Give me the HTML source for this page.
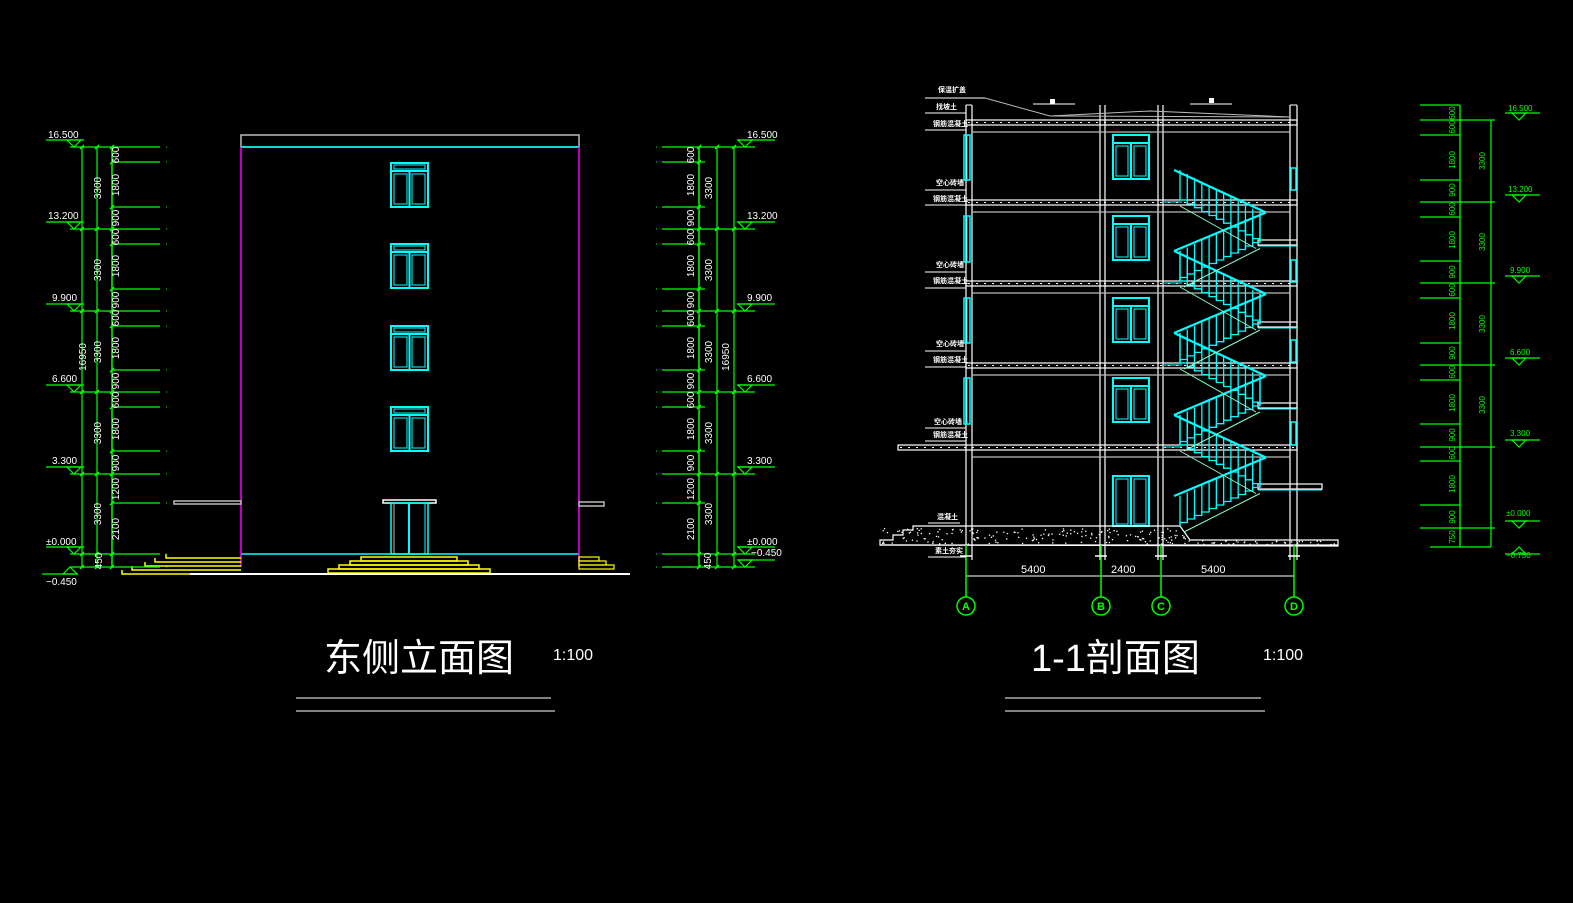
<!DOCTYPE html>
<html><head><meta charset="utf-8">
<style>
html,body{margin:0;padding:0;background:#000;}
svg{display:block;}
text{font-family:"Liberation Sans","Noto Sans CJK SC",sans-serif;}
.d{fill:#fff;font-size:10px;}
.g{fill:#0f0;font-size:8px;}
</style></head><body>
<svg id="s" width="1573" height="903" viewBox="0 0 1573 903" xmlns="http://www.w3.org/2000/svg">
<rect width="1573" height="903" fill="#000"/>
<g id="geo"></g>

<g class="d" font-size="10">
<text x="48" y="138">16.500</text>
<text x="48" y="219">13.200</text>
<text x="52" y="301">9.900</text>
<text x="52" y="382">6.600</text>
<text x="52" y="464">3.300</text>
<text x="46" y="545">±0.000</text>
<text x="46" y="585">−0.450</text>
<text x="747" y="138">16.500</text>
<text x="747" y="219">13.200</text>
<text x="747" y="301">9.900</text>
<text x="747" y="382">6.600</text>
<text x="747" y="464">3.300</text>
<text x="747" y="545">±0.000</text>
<text x="751" y="556">−0.450</text>
</g>
<g class="d" font-size="9">
<text transform="translate(101,188) rotate(-90)" text-anchor="middle">3300</text>
<text transform="translate(101,270) rotate(-90)" text-anchor="middle">3300</text>
<text transform="translate(101,352) rotate(-90)" text-anchor="middle">3300</text>
<text transform="translate(101,433) rotate(-90)" text-anchor="middle">3300</text>
<text transform="translate(101,514) rotate(-90)" text-anchor="middle">3300</text>
<text transform="translate(86,357) rotate(-90)" text-anchor="middle">16950</text>
<text transform="translate(119,155) rotate(-90)" text-anchor="middle">600</text>
<text transform="translate(119,185) rotate(-90)" text-anchor="middle">1800</text>
<text transform="translate(119,218) rotate(-90)" text-anchor="middle">900</text>
<text transform="translate(119,237) rotate(-90)" text-anchor="middle">600</text>
<text transform="translate(119,266) rotate(-90)" text-anchor="middle">1800</text>
<text transform="translate(119,300) rotate(-90)" text-anchor="middle">900</text>
<text transform="translate(119,318) rotate(-90)" text-anchor="middle">600</text>
<text transform="translate(119,348) rotate(-90)" text-anchor="middle">1800</text>
<text transform="translate(119,381) rotate(-90)" text-anchor="middle">900</text>
<text transform="translate(119,400) rotate(-90)" text-anchor="middle">600</text>
<text transform="translate(119,429) rotate(-90)" text-anchor="middle">1800</text>
<text transform="translate(119,463) rotate(-90)" text-anchor="middle">900</text>
<text transform="translate(119,489) rotate(-90)" text-anchor="middle">1200</text>
<text transform="translate(119,529) rotate(-90)" text-anchor="middle">2100</text>
<text transform="translate(102,561) rotate(-90)" text-anchor="middle">450</text>
<text transform="translate(712,188) rotate(-90)" text-anchor="middle">3300</text>
<text transform="translate(712,270) rotate(-90)" text-anchor="middle">3300</text>
<text transform="translate(712,352) rotate(-90)" text-anchor="middle">3300</text>
<text transform="translate(712,433) rotate(-90)" text-anchor="middle">3300</text>
<text transform="translate(712,514) rotate(-90)" text-anchor="middle">3300</text>
<text transform="translate(729,357) rotate(-90)" text-anchor="middle">16950</text>
<text transform="translate(694,155) rotate(-90)" text-anchor="middle">600</text>
<text transform="translate(694,185) rotate(-90)" text-anchor="middle">1800</text>
<text transform="translate(694,218) rotate(-90)" text-anchor="middle">900</text>
<text transform="translate(694,237) rotate(-90)" text-anchor="middle">600</text>
<text transform="translate(694,266) rotate(-90)" text-anchor="middle">1800</text>
<text transform="translate(694,300) rotate(-90)" text-anchor="middle">900</text>
<text transform="translate(694,318) rotate(-90)" text-anchor="middle">600</text>
<text transform="translate(694,348) rotate(-90)" text-anchor="middle">1800</text>
<text transform="translate(694,381) rotate(-90)" text-anchor="middle">900</text>
<text transform="translate(694,400) rotate(-90)" text-anchor="middle">600</text>
<text transform="translate(694,429) rotate(-90)" text-anchor="middle">1800</text>
<text transform="translate(694,463) rotate(-90)" text-anchor="middle">900</text>
<text transform="translate(694,489) rotate(-90)" text-anchor="middle">1200</text>
<text transform="translate(694,529) rotate(-90)" text-anchor="middle">2100</text>
<text transform="translate(711,561) rotate(-90)" text-anchor="middle">450</text>
</g>

<text x="324" y="671" fill="#fff" font-size="38" font-family="'Liberation Serif','Noto Serif CJK SC',serif">东侧立面图</text>
<text x="553" y="660" fill="#fff" font-size="16" font-family="'Liberation Serif',serif">1:100</text>
<text x="1031" y="671" fill="#fff" font-size="38" font-family="'Liberation Serif','Noto Serif CJK SC',serif">1-1剖面图</text>
<text x="1263" y="660" fill="#fff" font-size="16" font-family="'Liberation Serif',serif">1:100</text>

<g fill="#fff" font-size="7" font-family="'Noto Sans CJK SC',sans-serif" font-weight="bold">
<text x="938" y="92">保温扩盖</text>
<text x="936" y="109">找坡土</text>
<text x="933" y="126">钢筋混凝土</text>
<text x="936" y="185">空心砖墙</text>
<text x="933" y="201">钢筋混凝土</text>
<text x="936" y="267">空心砖墙</text>
<text x="933" y="283">钢筋混凝土</text>
<text x="936" y="346">空心砖墙</text>
<text x="933" y="362">钢筋混凝土</text>
<text x="934" y="424">空心砖墙</text>
<text x="933" y="437">钢筋混凝土</text>
<text x="937" y="519">混凝土</text>
<text x="935" y="553">素土夯实</text>
</g>
<g fill="#fff" font-size="11">
<text x="1021" y="573">5400</text>
<text x="1111" y="573">2400</text>
<text x="1201" y="573">5400</text>
</g>
<g fill="#0f0" font-size="11" font-weight="bold" text-anchor="middle" font-family="'Liberation Serif',serif">
<text x="966" y="610">A</text>
<text x="1101" y="610">B</text>
<text x="1161" y="610">C</text>
<text x="1294" y="610">D</text>
</g>
<g class="g" font-size="7">
<text x="1508" y="111">16.500</text>
<text x="1508" y="192">13.200</text>
<text x="1510" y="273">9.900</text>
<text x="1510" y="355">6.600</text>
<text x="1510" y="436">3.300</text>
<text x="1506" y="516">±0.000</text>
<text x="1506" y="558">−0.750</text>
</g>
<g class="g" font-size="7">
<text transform="translate(1455,113) rotate(-90)" text-anchor="middle">600</text>
<text transform="translate(1455,127) rotate(-90)" text-anchor="middle">600</text>
<text transform="translate(1455,160) rotate(-90)" text-anchor="middle">1800</text>
<text transform="translate(1455,190) rotate(-90)" text-anchor="middle">900</text>
<text transform="translate(1455,209) rotate(-90)" text-anchor="middle">600</text>
<text transform="translate(1455,240) rotate(-90)" text-anchor="middle">1800</text>
<text transform="translate(1455,272) rotate(-90)" text-anchor="middle">900</text>
<text transform="translate(1455,290) rotate(-90)" text-anchor="middle">600</text>
<text transform="translate(1455,321) rotate(-90)" text-anchor="middle">1800</text>
<text transform="translate(1455,353) rotate(-90)" text-anchor="middle">900</text>
<text transform="translate(1455,372) rotate(-90)" text-anchor="middle">600</text>
<text transform="translate(1455,403) rotate(-90)" text-anchor="middle">1800</text>
<text transform="translate(1455,435) rotate(-90)" text-anchor="middle">900</text>
<text transform="translate(1455,453) rotate(-90)" text-anchor="middle">600</text>
<text transform="translate(1455,484) rotate(-90)" text-anchor="middle">1800</text>
<text transform="translate(1455,517) rotate(-90)" text-anchor="middle">900</text>
<text transform="translate(1455,537) rotate(-90)" text-anchor="middle">750</text>
<text transform="translate(1485,161) rotate(-90)" text-anchor="middle">3300</text>
<text transform="translate(1485,242) rotate(-90)" text-anchor="middle">3300</text>
<text transform="translate(1485,324) rotate(-90)" text-anchor="middle">3300</text>
<text transform="translate(1485,405) rotate(-90)" text-anchor="middle">3300</text>
</g>
</svg>
<script>
const G=document.getElementById('geo');let h='';
const L=(x1,y1,x2,y2,c,w)=>{h+=`<line x1="${x1}" y1="${y1}" x2="${x2}" y2="${y2}" stroke="${c}" stroke-width="${w||1}"/>`;};
const R=(x,y,w,hh,c,sw)=>{h+=`<rect x="${x}" y="${y}" width="${w}" height="${hh}" fill="none" stroke="${c}" stroke-width="${sw||1}"/>`;};
const P=(pts,c,w,f)=>{h+=`<polyline points="${pts}" fill="${f||'none'}" stroke="${c}" stroke-width="${w||1}"/>`;};
const PG=(pts,c,w)=>{h+=`<polygon points="${pts}" fill="none" stroke="${c}" stroke-width="${w||1}"/>`;};
const GR='#0f0',CY='#0ff',W='#fff',MG='#f0f',YL='#ff0',GY='#bbb';
const lv=[147,229,311,392,474,554,567];
R(241,135,338,12,GY,1.5);
L(241,147,579,147,CY,1.5);L(241,554,579,554,CY,1.5);
L(241,147,241,567,MG,1.5);L(579,147,579,567,MG,1.5);
function win(x,y){R(x,y,37,44,CY,2);L(x,y+8,x+37,y+8,CY,2);R(x+3,y+2,31,4,CY,1);L(x+18.5,y+8,x+18.5,y+44,CY,2);R(x+3,y+11,13,30,CY,1);R(x+21,y+11,13,30,CY,1);}
[163,244,326,407].forEach(y=>win(391,y));
R(383,500,53,3,W,1.5);R(391,503,37,51,CY,1.5);L(409,503,409,554,CY,2);L(394,503,394,554,GY,1);L(425,503,425,554,CY,1);
R(174,501,67,3,GY,1.5);R(579,502,25,4,GY,1.5);
[[166,554],[155,558],[145,562],[132,566],[122,570]].forEach(s=>{P(`${s[0]},${s[1]} ${s[0]},${s[1]+4} 241,${s[1]+4}`,YL,1.5);});
[[361,457,557],[355,463,561],[349,469,565],[343,475,569]].forEach((s,i)=>{R(s[0]-5*i,s[2],s[1]-s[0]+10*i,4,YL,1.5);});
R(579,557,20,4,YL,1.2);R(579,561,27,4,YL,1.2);R(579,565,35,4,YL,1.2);
L(190,574,630,574,W,2);
lv.forEach(y=>{L(70,y,160,y,GR,1.2);});
[162,207,244,289,326,370,407,451,503].forEach(y=>{L(112,y,160,y,GR,1.2);});
L(82,147,82,567,GR,1.2);L(97,147,97,567,GR,1.2);L(112,147,112,567,GR,1.5);
[147,162,207,229,244,289,311,326,370,392,407,451,474,503,554,567].forEach(y=>{L(110,y+2,114,y-2,GR,1.5);});
lv.forEach(y=>{L(95,y+2,99,y-2,GR,1.5);L(80,y+2,84,y-2,GR,1.5);});
lv.forEach(y=>{L(662,y,755,y,GR,1.2);});
[162,207,244,289,326,370,407,451,503].forEach(y=>{L(662,y,705,y,GR,1.2);});
L(699,147,699,567,GR,1.5);L(717,147,717,567,GR,1.2);L(734,147,734,567,GR,1.2);
[147,162,207,229,244,289,311,326,370,392,407,451,474,503,554,567].forEach(y=>{L(697,y+2,701,y-2,GR,1.5);L(166,y,167,y,GR,1);L(656,y,657,y,GR,1);});
lv.forEach(y=>{L(715,y+2,719,y-2,GR,1.5);L(732,y+2,736,y-2,GR,1.5);});
function lvl(x0,x1,ax,y,up,c){if(!up){L(x0,y-7,x1,y-7,c,1.2);PG(`${ax-7},${y-7} ${ax+7},${y-7} ${ax},${y}`,c,1.2);}else{L(x0,y+7,x1,y+7,c,1.2);PG(`${ax-7},${y+7} ${ax+7},${y+7} ${ax},${y}`,c,1.2);}}
[147,229,311,392,474,554].forEach(y=>{lvl(46,84,74,y,0,GR);lvl(737,775,745,y,0,GR);});
lvl(42,78,70,567,1,GR);lvl(738,775,745,567,0,GR);
// Section
const sf=[122,202,283,365,447,528];
const wx=[[966,972],[1100,1105],[1158,1163],[1290,1297]];
wx.forEach(w=>{L(w[0],105,w[0],560,W,1.2);L(w[1],105,w[1],560,W,1.2);});
L(966,105,972,105,W,1);L(1290,105,1297,105,W,1);
sf.slice(0,5).forEach((y,i)=>{const x0=i==4?898:966;R(x0,y-2,1297-x0,5,W,1.2);h+=`<line x1="${x0+2}" y1="${y+0.5}" x2="1295" y2="${y+0.5}" stroke="#fff" stroke-width="1" stroke-dasharray="2 6"/>`;L(972,y+10,1290,y+10,GY,1.2);});
[[242,1258,1297],[324,1258,1297],[405,1258,1297],[486,1258,1322]].forEach(l=>{R(l[1],l[0]-2,l[2]-l[1],5,W,1.2);L(l[1],l[0]+4,l[2],l[0]+4,CY,1);});
P('985,98 1050,116 1290,117',GY,1);P('1050,116 1150,111 1290,117',GY,1);
L(1033,104,1075,104,W,1);h+=`<rect x="1050" y="99" width="5" height="5" fill="#fff"/><rect x="1209" y="98" width="5" height="5" fill="#fff"/>`;L(1190,104,1232,104,W,1);
[[135,180],[216,262],[298,343],[378,424]].forEach(s=>{R(964,s[0],6,s[1]-s[0],CY,1.5);L(967,s[0],967,s[1],CY,1);});
[[168,190],[260,282],[340,362],[422,445]].forEach(s=>{R(1291,s[0],5,s[1]-s[0],CY,1.5);});
[135,216,298,378].forEach(y=>{R(1113,y,36,44,CY,2);L(1113,y+8,1149,y+8,CY,2);L(1131,y+8,1131,y+44,CY,2);R(1116,y+11,12,30,CY,1);R(1134,y+11,12,30,CY,1);});
R(1113,476,36,50,CY,2);L(1131,476,1131,526,CY,2);R(1116,479,12,45,CY,1);R(1134,479,12,45,CY,1);
h+=`<path d="M880,545 L880,540 L893,540 L893,535 L903,535 L903,530 L913,530 L913,526 L1180,526 L1190,540 L1338,540 L1338,546 Z" fill="none" stroke="#fff" stroke-width="1.2"/>`;
let seed=7;const rnd=()=>{seed=(seed*16807)%2147483647;return seed/2147483647;};
for(let i=0;i<300;i++){const x=882+rnd()*455,y=528+rnd()*16;if(x>1188&&y<540)continue;h+=`<rect x="${x.toFixed(1)}" y="${y.toFixed(1)}" width="1.3" height="1.3" fill="#fff"/>`;}
L(880,545,1338,545,W,1.2);
[[925,98,985,98],[925,113,966,113],[925,130,966,130],[925,190,966,190],[925,205,966,205],[925,272,966,272],[925,288,966,288],[925,351,966,351],[925,367,966,367],[925,428,966,428],[925,441,966,441],[928,523,960,523],[928,557,966,557]].forEach(a=>L(a[0],a[1],a[2],a[3],W,1));
L(966,576,1294,576,W,1);
[966,1101,1161,1294].forEach(x=>{L(x,545,x,597,GR,1.5);h+=`<circle cx="${x}" cy="606" r="9" fill="none" stroke="#0f0" stroke-width="1.5"/>`;L(x-6,556,x+6,556,W,1.5);});
function flight(xa,ya,xb,yb){const n=11;let pts=`${xa},${ya}`;const dx=(xb-xa)/n,dy=(yb-ya)/n;let x=xa,y=ya;for(let i=0;i<n;i++){y+=dy;pts+=` ${x.toFixed(1)},${y.toFixed(1)}`;x+=dx;pts+=` ${x.toFixed(1)},${y.toFixed(1)}`;}P(pts,CY,1.3);
L(xa+(dx>0?4:-4),ya+6,xb,yb+6,'#8fc',1);
const r=30;const ex=dx>0?6:-6;L(xa-ex,ya-r,xb+ex,yb-r,CY,2.2);for(let i=0;i<=n;i++){const bx=xa+dx*i,by=ya+dy*i;L(bx,by,bx,by-r,CY,1.3);}}
for(let k=0;k<4;k++){const y0=sf[5-k],y1=sf[4-k],ym=(y0+y1)/2+2;flight(1180,y0-2,1260,ym-2);flight(1260,ym-2,1180,y1-2);}
L(1163,202,1182,202,CY,1);L(1163,283,1182,283,CY,1);L(1163,365,1182,365,CY,1);L(1163,447,1182,447,CY,1);
const rl=[120,202,283,365,447,528];
rl.forEach(y=>{L(1420,y,1495,y,GR,1.2);lvl(1505,1540,1519,y,0,GR);});
[105,135,180,217,261,298,343,380,424,461,505].forEach(y=>{L(1420,y,1460,y,GR,1.2);});
L(1460,105,1460,547,GR,1.3);L(1491,120,1491,547,GR,1.2);L(1430,547,1491,547,GR,1.2);
lvl(1505,1540,1519,547,1,GR);
L(296,698,551,698,W,1);L(296,711,555,711,W,1);L(1005,698,1261,698,W,1);L(1005,711,1265,711,W,1);
G.innerHTML=h;
</script>
</body></html>
